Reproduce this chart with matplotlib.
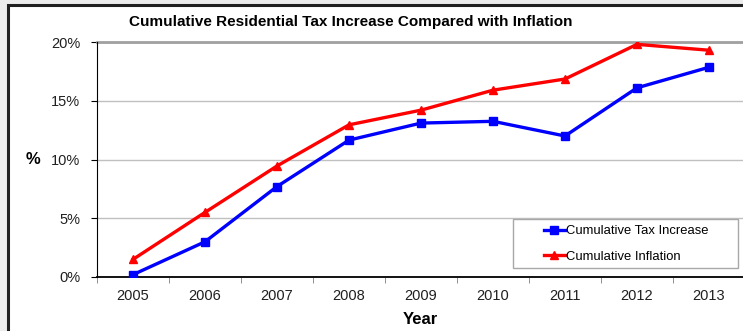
import numpy as np
import matplotlib.pyplot as plt
from matplotlib.patches import Rectangle

plt.rcParams['font.family'] = ['Liberation Sans', 'DejaVu Sans']

years = ['2005', '2006', '2007', '2008', '2009', '2010', '2011', '2012', '2013']
tax_increase = [0.2, 3.0, 7.7, 11.65, 13.1, 13.25, 12.0, 16.1, 17.85]
inflation = [1.5, 5.5, 9.45, 12.95, 14.2, 15.9, 16.85, 19.8, 19.3]

W, H = 743, 331
fig = plt.figure(figsize=(W / 100, H / 100), dpi=100)
fig.patch.set_facecolor('#ececec')

# white chart area with dark border (cut off at right and bottom)
fig.patches.append(Rectangle((8 / W, -0.1), 1.1, 1 - 5 / H + 0.1, transform=fig.transFigure,
                             facecolor='white', edgecolor='#202020', linewidth=2.2, zorder=-10))

ax = fig.add_axes([97 / W, (H - 277) / H, (745 - 97) / W, (277 - 42) / H])
ax.set_facecolor('none')

x = np.arange(len(years))
ax.plot(x, tax_increase, color='#0000ff', linewidth=2.4, marker='s', markersize=5.5,
        label='Cumulative Tax Increase', zorder=3)
ax.plot(x, inflation, color='#ff0000', linewidth=2.4, marker='^', markersize=6,
        label='Cumulative Inflation', zorder=3)

ax.set_xlim(-0.5, len(years) - 0.5)
ax.set_ylim(0, 20)
ax.set_yticks([0, 5, 10, 15, 20])
ax.set_yticklabels(['0%', '5%', '10%', '15%', '20%'])
ax.set_xticks(x)
ax.set_xticklabels(years)
ax.set_xticks(np.arange(-0.5, len(years)), minor=True)
ax.tick_params(axis='x', which='major', length=0, pad=9, labelsize=10.5, labelcolor='#202020')
ax.tick_params(axis='x', which='minor', length=4, color='#808080')
ax.tick_params(axis='y', length=4, labelsize=10.5, pad=8, labelcolor='#202020')

ax.grid(axis='y', color='#c0c0c0', linewidth=1)
ax.axhline(20, color='#a0a0a0', linewidth=2, zorder=2, clip_on=False)
for s in ['top', 'right']:
    ax.spines[s].set_visible(False)
ax.spines['left'].set_color('black')
ax.spines['bottom'].set_color('black')
ax.spines['bottom'].set_linewidth(1.3)

fig.text(351 / W, 1 - 22 / H, 'Cumulative Residential Tax Increase Compared with Inflation',
         ha='center', va='center', fontsize=11, fontweight='bold')
fig.text(33 / W, 1 - 159 / H, '%', ha='center', va='center', fontsize=12, fontweight='bold')
fig.text(420 / W, 1 - 320 / H, 'Year', ha='center', va='center', fontsize=12, fontweight='bold')

# legend box drawn separately to get the wide side padding
ax.add_patch(Rectangle((513 / W, 1 - 268 / H), (738 - 513) / W, 49 / H,
                       transform=fig.transFigure, facecolor='white', clip_on=False,
                       edgecolor='#a8a8a8', linewidth=1, zorder=4))
leg = ax.legend(loc='center', bbox_to_anchor=(626 / W, 1 - 244 / H),
                bbox_transform=fig.transFigure, fontsize=9.4, frameon=False,
                handlelength=1.6, handletextpad=0.1, borderpad=0, labelspacing=1.05)
leg.set_zorder(5)

fig.savefig('out.png', dpi=100)
